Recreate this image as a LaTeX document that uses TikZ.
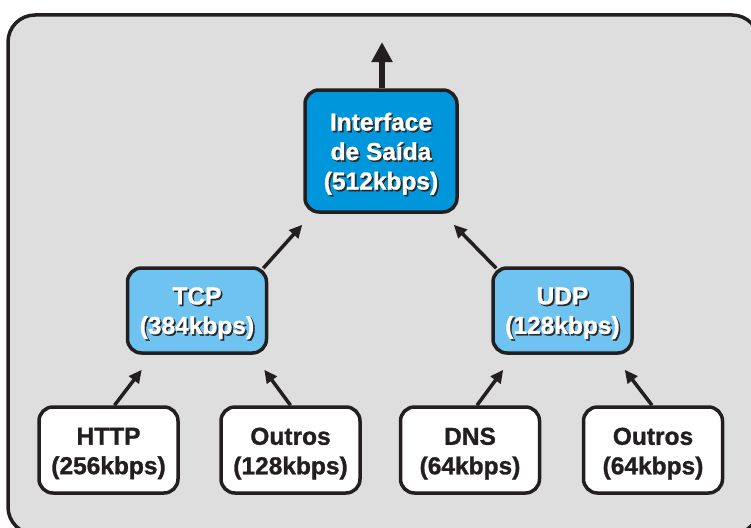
\documentclass[tikz,border=0pt]{standalone}
\usepackage{fontspec}
\setmainfont{Liberation Sans}
\newfontfamily\heavyfont{Liberation Sans Bold}[FakeBold=1.2]
\usetikzlibrary{arrows.meta,calc}

\definecolor{panelgray}{RGB}{222,222,222}
\definecolor{ink}{RGB}{35,31,32}
\definecolor{deepblue}{RGB}{0,150,219}
\definecolor{paleblue}{RGB}{110,195,240}
\definecolor{shadowc}{RGB}{40,40,40}

% one line of white text over its dark drop shadow
\newcommand{\shd}[1]{%
  \makebox[0pt][l]{\hspace{1.6pt}\raisebox{-1.6pt}{\color{shadowc}#1}}#1}

\begin{document}
\begin{tikzpicture}[x=1pt, y=-1pt,
  box/.style={draw=ink, line width=3.5pt, rounded corners=14pt, inner sep=0pt},
  topbox/.style={box, fill=deepblue, minimum width=152pt, minimum height=122pt},
  midbox/.style={box, fill=paleblue, minimum width=139pt, minimum height=85pt},
  leafbox/.style={box, fill=white, minimum width=139pt, minimum height=86pt},
  lbl/.style={align=center, inner sep=0pt, yshift=-3.5pt,
    font=\heavyfont\fontsize{24.5}{29.5}\selectfont},
  arr/.style={draw=ink, line width=3.5pt, -{Triangle[length=13pt,width=12pt]}},
  bigarr/.style={draw=ink, line width=6pt, -{Triangle[length=20pt,width=20pt]}}
]
\useasboundingbox (0,0) rectangle (751,527);

% panel
\draw[draw=ink, line width=3.5pt, fill=panelgray, rounded corners=27pt] (8,15) rectangle (759,534);

% boxes
\node[topbox]  (out)    at (381,151) {};
\node[midbox]  (tcp)    at (197,310.5) {};
\node[midbox]  (udp)    at (562.5,310.5) {};
\node[leafbox] (http)   at (108.5,450) {};
\node[leafbox] (outa)   at (290.5,450) {};
\node[leafbox] (dns)    at (470,450) {};
\node[leafbox] (outb)   at (653,450) {};
\coordinate (exit) at (382,42);

% labels
\node[lbl, text=white] at (out.center) {\shd{Interface}\\\shd{de Saída}\\\shd{(512kbps)}};
\node[lbl, text=white] at (tcp.center) {\shd{TCP}\\\shd{(384kbps)}};
\node[lbl, text=white] at (udp.center) {\shd{UDP}\\\shd{(128kbps)}};
\node[lbl, text=ink] at (http.center) {HTTP\\(256kbps)};
\node[lbl, text=ink] at (outa.center) {Outros\\(128kbps)};
\node[lbl, text=ink] at (dns.center)  {DNS\\(64kbps)};
\node[lbl, text=ink] at (outb.center) {Outros\\(64kbps)};

% connectors
\draw[bigarr] ($(out.north)+(1,0)$) -- (exit);
\draw[arr] ($(tcp.north east)+(-5,2)$) -- ($(out.south west)+(-1,11)$);
\draw[arr] ($(udp.north west)+(5,2)$) -- ($(out.south east)+(-5,11)$);
\draw[arr] ($(http.north)+(6,0)$) -- ($(tcp.south west)+(16,15)$);
\draw[arr] (outa.north) -- ($(tcp.south east)+(-4,15)$);
\draw[arr] ($(dns.north)+(7,0)$) -- ($(udp.south west)+(12,15)$);
\draw[arr] ($(outb.north)+(-1,0)$) -- ($(udp.south east)+(-9,15)$);
\end{tikzpicture}
\end{document}
